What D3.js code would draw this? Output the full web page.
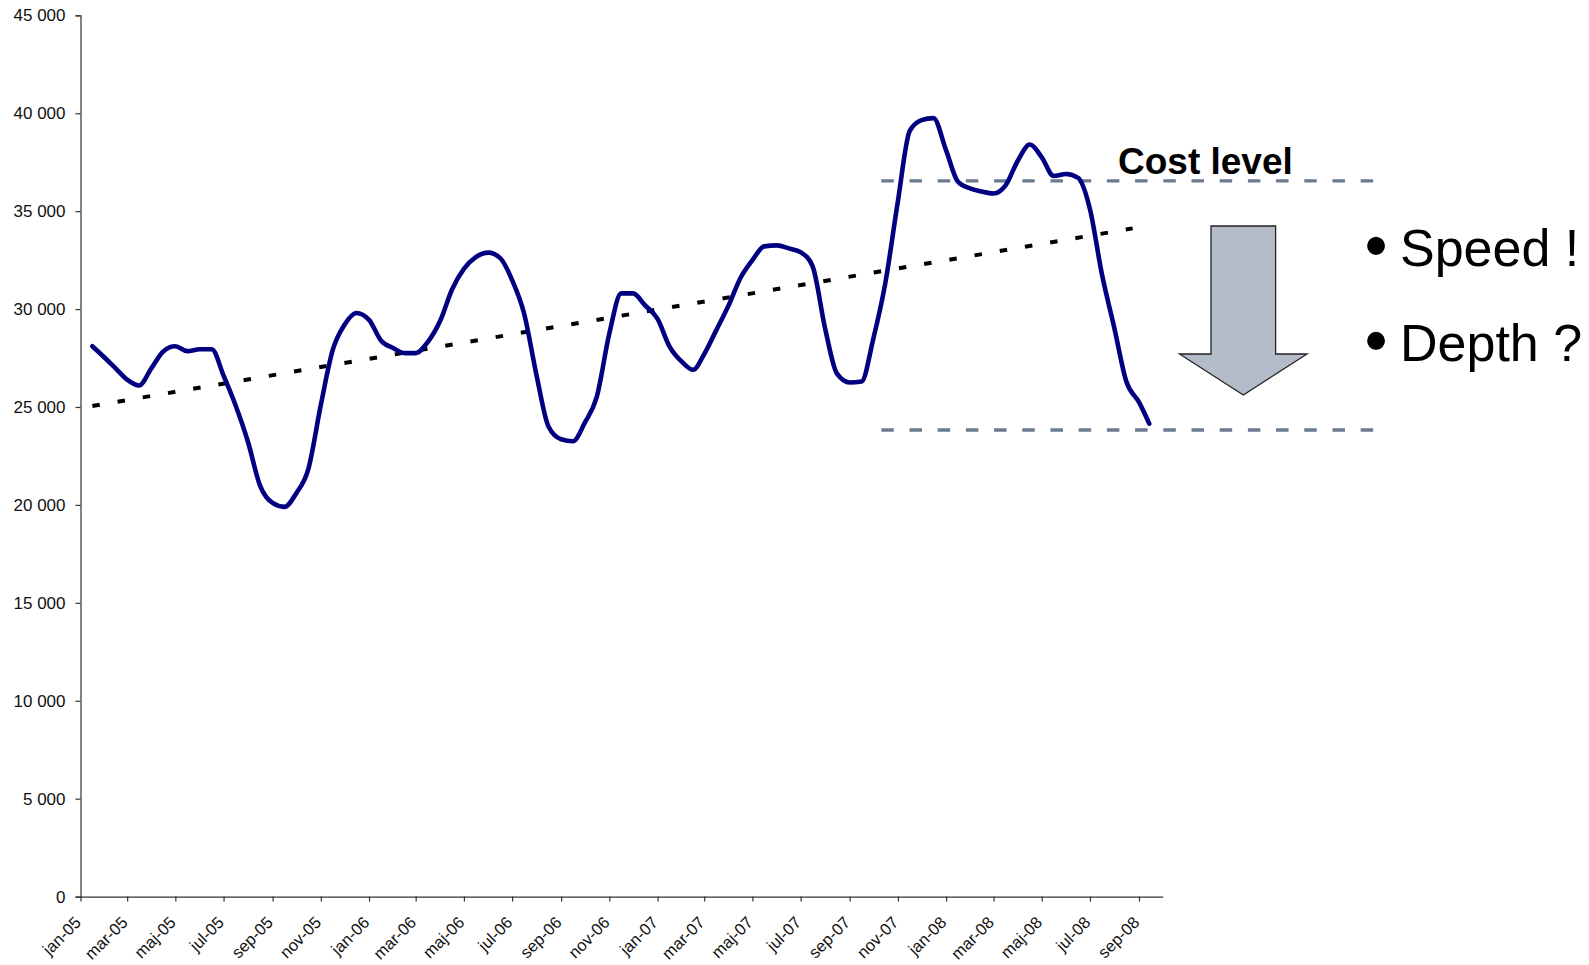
<!DOCTYPE html>
<html>
<head>
<meta charset="utf-8">
<script src="https://cdn.jsdelivr.net/npm/d3@7"></script>
<style>
  html, body { margin: 0; padding: 0; background: #fff; }
  svg { display: block; font-family: "Liberation Sans", Arial, sans-serif; }
</style>
</head>
<body>
<svg id="chart" width="1589" height="965"></svg>
<script>
// Semi-monthly cost observations, jan-05 .. sep-08
const periods = [
  "2005-01-16","2005-02-01","2005-02-15","2005-03-01","2005-03-16","2005-04-01","2005-04-16","2005-05-01","2005-05-16","2005-06-01","2005-06-16",
  "2005-07-01","2005-07-16","2005-08-01","2005-08-16","2005-09-01","2005-09-16","2005-10-01","2005-10-16","2005-11-01","2005-11-16","2005-12-01","2005-12-16",
  "2006-01-01","2006-01-16","2006-02-01","2006-02-15","2006-03-01","2006-03-16","2006-04-01","2006-04-16","2006-05-01","2006-05-16","2006-06-01","2006-06-16",
  "2006-07-01","2006-07-16","2006-08-01","2006-08-16","2006-09-01","2006-09-16","2006-10-01","2006-10-16","2006-11-01","2006-11-16","2006-12-01","2006-12-16",
  "2007-01-01","2007-01-16","2007-02-01","2007-02-15","2007-03-01","2007-03-16","2007-04-01","2007-04-16","2007-05-01","2007-05-16","2007-06-01","2007-06-16",
  "2007-07-01","2007-07-16","2007-08-01","2007-08-16","2007-09-01","2007-09-16","2007-10-01","2007-10-16","2007-11-01","2007-11-16","2007-12-01","2007-12-16",
  "2008-01-01","2008-01-16","2008-02-01","2008-02-15","2008-03-01","2008-03-16","2008-04-01","2008-04-16","2008-05-01","2008-05-16","2008-06-01","2008-06-16",
  "2008-07-01","2008-07-16","2008-08-01","2008-08-16","2008-09-01","2008-09-14"
];
const costValues = [
  28100,27500,26950,26400,26100,27000,27850,28100,27850,27950,27950,
  26600,25100,23200,21000,20100,19900,20600,21800,25100,27900,29200,29800,
  29450,28400,28000,27750,27750,28300,29400,31000,32050,32650,32880,32600,
  31480,29800,26600,24000,23350,23250,24200,25500,28750,30800,30800,30200,
  29500,28100,27300,26900,27700,28900,30200,31600,32500,33200,33250,33100,
  32900,32200,29000,26700,26250,26300,28500,31300,35500,39100,39650,39750,
  38100,36500,36150,36000,35900,36300,37600,38400,37750,36800,36900,36700,
  35100,31800,29000,26300,25250,24150
];

// Linear trend end points
const trendPeriods = ["2005-01-16", "2008-08-24"];
const trendValues = [25050, 34120];

// Cost level band (upper / lower) and its horizontal extent
const levelValues = [36550, 23825];
const levelPeriods = ["2007-10-11", "2009-07-09"];

// Axis ticks
const yTicks = [0, 5000, 10000, 15000, 20000, 25000, 30000, 35000, 40000, 45000];
const xTickPeriods = [
  "2005-01-01","2005-03-01","2005-05-01","2005-07-01","2005-09-01","2005-11-01",
  "2006-01-01","2006-03-01","2006-05-01","2006-07-01","2006-09-01","2006-11-01",
  "2007-01-01","2007-03-01","2007-05-01","2007-07-01","2007-09-01","2007-11-01",
  "2008-01-01","2008-03-01","2008-05-01","2008-07-01","2008-09-01"
];
const xTickLabels = [
  "jan-05","mar-05","maj-05","jul-05","sep-05","nov-05",
  "jan-06","mar-06","maj-06","jul-06","sep-06","nov-06",
  "jan-07","mar-07","maj-07","jul-07","sep-07","nov-07",
  "jan-08","mar-08","maj-08","jul-08","sep-08"
];
const bulletTexts = ["Speed !", "Depth ?"];
const titleText = "Cost level";

const parse = d3.timeParse("%Y-%m-%d");

const svg = d3.select("#chart");
const plot = { left: 80.5, right: 1162.7, top: 15.3, bottom: 896.6 };

const x = d3.scaleTime()
  .domain([parse("2005-01-01"), parse("2008-10-01")])
  .range([plot.left, plot.right]);
const y = d3.scaleLinear()
  .domain([0, 45000])
  .range([plot.bottom, plot.top]);

const labelFont = "'Liberation Sans', Arial, sans-serif";

// Y axis
const yAxis = d3.axisLeft(y)
  .tickValues(yTicks)
  .tickSize(5)
  .tickPadding(10)
  .tickFormat(d => d3.format(",")(d).replace(/,/g, " "));
const gy = svg.append("g")
  .attr("transform", `translate(${plot.left},0)`)
  .call(yAxis);
gy.select(".domain").attr("stroke", "#333").attr("stroke-width", 1.2);
gy.selectAll(".tick line").attr("stroke", "#333").attr("stroke-width", 1.2);
gy.selectAll(".tick text")
  .attr("fill", "#111")
  .style("font-size", "17px")
  .style("font-family", labelFont);

// X axis
const tickDates = xTickPeriods.map(parse);
const xAxis = d3.axisBottom(x)
  .tickValues(tickDates)
  .tickSize(5)
  .tickSizeOuter(0)
  .tickFormat((d, i) => xTickLabels[i]);
const gx = svg.append("g")
  .attr("transform", `translate(0,${plot.bottom})`)
  .call(xAxis);
gx.select(".domain").attr("stroke", "#333").attr("stroke-width", 1.2);
gx.selectAll(".tick line").attr("stroke", "#333").attr("stroke-width", 1.2);
gx.selectAll(".tick text")
  .attr("fill", "#111")
  .style("font-size", "16.5px")
  .style("font-family", labelFont)
  .attr("text-anchor", "end")
  .attr("dy", null)
  .attr("y", null)
  .attr("transform", "translate(1,27) rotate(-45)");

// Cost level band lines
const levelX0 = x(parse(levelPeriods[0]));
const levelX1 = x(parse(levelPeriods[1]));
svg.append("g").selectAll("line")
  .data(levelValues)
  .join("line")
  .attr("x1", levelX0)
  .attr("x2", levelX1)
  .attr("y1", d => y(d))
  .attr("y2", d => y(d))
  .attr("stroke", "#6b7b8f")
  .attr("stroke-width", 3.3)
  .attr("stroke-dasharray", "12.5,15.7");

// Trend line
const trend = trendPeriods.map((p, i) => ({ date: parse(p), value: trendValues[i] }));
svg.append("path")
  .datum(trend)
  .attr("fill", "none")
  .attr("stroke", "#000")
  .attr("stroke-width", 4)
  .attr("stroke-dasharray", "7.5,18.07")
  .attr("d", d3.line().x(d => x(d.date)).y(d => y(d.value)));

// Cost series
const series = periods.map((p, i) => ({ date: parse(p), value: costValues[i] }));
svg.append("path")
  .datum(series)
  .attr("fill", "none")
  .attr("stroke", "#000080")
  .attr("stroke-width", 4.6)
  .attr("stroke-linejoin", "round")
  .attr("stroke-linecap", "round")
  .attr("d", d3.line().curve(d3.curveMonotoneX).x(d => x(d.date)).y(d => y(d.value)));

// Title of the band
svg.append("text")
  .attr("x", 1118)
  .attr("y", 174)
  .attr("font-size", 37)
  .attr("font-weight", "bold")
  .attr("fill", "#000")
  .text(titleText);

// Downward arrow
const arrow = { cx: 1243.3, shaftHalf: 32.3, headHalf: 63.8, top: 226, headBase: 354, tip: 395 };
const arrowPath = d3.path();
arrowPath.moveTo(arrow.cx - arrow.shaftHalf, arrow.top);
arrowPath.lineTo(arrow.cx + arrow.shaftHalf, arrow.top);
arrowPath.lineTo(arrow.cx + arrow.shaftHalf, arrow.headBase);
arrowPath.lineTo(arrow.cx + arrow.headHalf, arrow.headBase);
arrowPath.lineTo(arrow.cx, arrow.tip);
arrowPath.lineTo(arrow.cx - arrow.headHalf, arrow.headBase);
arrowPath.lineTo(arrow.cx - arrow.shaftHalf, arrow.headBase);
arrowPath.closePath();
svg.append("path")
  .attr("d", arrowPath.toString())
  .attr("fill", "#b3bcc8")
  .attr("stroke", "#222")
  .attr("stroke-width", 1.3);

// Bullet points
const bullets = svg.append("g");
bulletTexts.forEach((t, i) => {
  const base = 266 + i * 95;
  bullets.append("text")
    .attr("x", 1376)
    .attr("y", base + 2)
    .attr("text-anchor", "middle")
    .attr("font-size", 66)
    .attr("fill", "#000")
    .text("\u2022");
  bullets.append("text")
    .attr("x", 1400)
    .attr("y", base)
    .attr("font-size", 52)
    .attr("fill", "#000")
    .text(t);
});
</script>
</body>
</html>
